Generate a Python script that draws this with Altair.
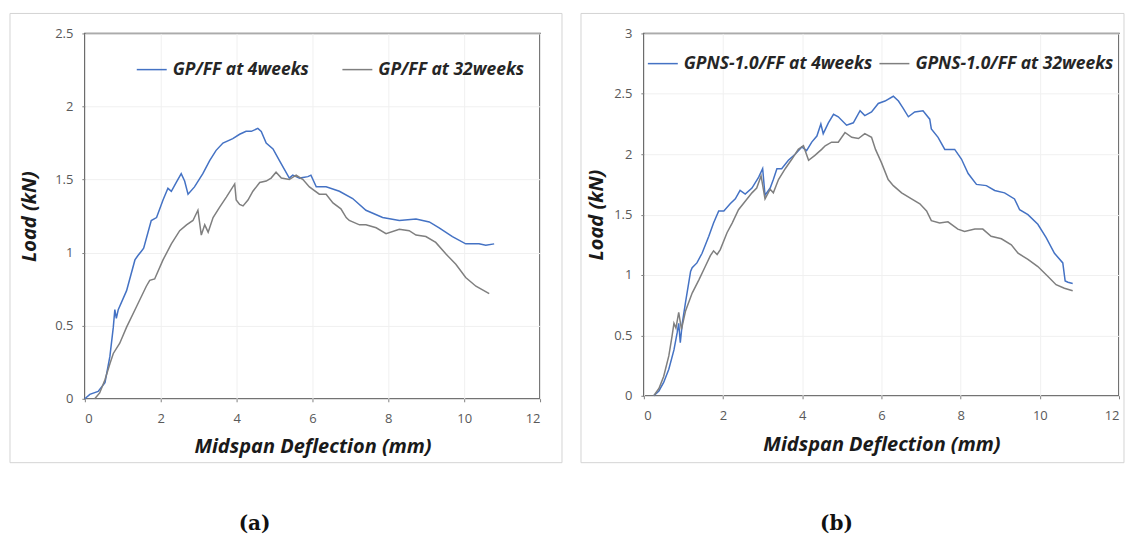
import altair as alt
import pandas as pd

# ---------------- data ----------------
x_ticks = [0, 2, 4, 6, 8, 10, 12]
y_ticks_a = [0, 0.5, 1, 1.5, 2, 2.5]
y_ticks_b = [0, 0.5, 1, 1.5, 2, 2.5, 3]

names_a = ["GP/FF at 4weeks", "GP/FF at 32weeks"]
names_b = ["GPNS-1.0/FF at 4weeks", "GPNS-1.0/FF at 32weeks"]
captions = ["(a)", "(b)"]

a4_x = [0, 0.13, 0.35, 0.53, 0.66, 0.75, 0.79, 0.83, 0.88, 1.10, 1.32, 1.40, 1.49, 1.55, 1.75, 1.89,
        2.06, 2.19, 2.28, 2.41, 2.54, 2.63, 2.72, 2.89, 3.11, 3.29, 3.46, 3.64, 3.90, 4.08, 4.25, 4.39,
        4.56, 4.65, 4.78, 4.96, 5.13, 5.26, 5.39, 5.48, 5.66, 5.88, 5.96, 6.10, 6.36, 6.71, 7.06, 7.41,
        7.85, 8.29, 8.73, 9.08, 9.34, 9.69, 10.04, 10.39, 10.57, 10.79]
a4_y = [0, 0.03, 0.05, 0.11, 0.29, 0.49, 0.61, 0.55, 0.61, 0.74, 0.95, 0.98, 1.01, 1.03, 1.22, 1.24,
        1.36, 1.44, 1.42, 1.48, 1.54, 1.49, 1.40, 1.45, 1.54, 1.63, 1.70, 1.75, 1.78, 1.81, 1.83, 1.83,
        1.85, 1.83, 1.75, 1.71, 1.63, 1.57, 1.51, 1.53, 1.51, 1.52, 1.53, 1.45, 1.45, 1.42, 1.37, 1.29,
        1.24, 1.22, 1.23, 1.21, 1.17, 1.11, 1.06, 1.06, 1.05, 1.06]

a32_x = [0.26, 0.39, 0.53, 0.66, 0.75, 0.92, 1.10, 1.36, 1.62, 1.71, 1.84, 2.06, 2.28, 2.50, 2.68, 2.85,
         2.98, 3.07, 3.16, 3.25, 3.38, 3.55, 3.73, 3.95, 3.99, 4.08, 4.17, 4.30, 4.43, 4.61, 4.78, 4.91,
         5.04, 5.18, 5.39, 5.57, 5.75, 5.92, 6.18, 6.36, 6.54, 6.75, 6.89, 6.97, 7.24, 7.41, 7.68, 7.94,
         8.29, 8.55, 8.73, 8.99, 9.25, 9.52, 9.78, 10.04, 10.31, 10.66]
a32_y = [0, 0.04, 0.13, 0.24, 0.31, 0.38, 0.49, 0.63, 0.77, 0.81, 0.82, 0.95, 1.06, 1.15, 1.19, 1.22,
         1.29, 1.12, 1.19, 1.14, 1.24, 1.31, 1.38, 1.47, 1.36, 1.33, 1.32, 1.36, 1.42, 1.48, 1.49, 1.51,
         1.55, 1.51, 1.50, 1.53, 1.50, 1.45, 1.40, 1.40, 1.34, 1.30, 1.24, 1.22, 1.19, 1.19, 1.17, 1.13,
         1.16, 1.15, 1.12, 1.11, 1.07, 0.99, 0.92, 0.83, 0.77, 0.72]

b4_x = [0.25, 0.38, 0.50, 0.63, 0.76, 0.84, 0.88, 0.92, 0.97, 1.05, 1.18, 1.22, 1.34, 1.47, 1.64, 1.76,
        1.89, 2.02, 2.18, 2.31, 2.43, 2.56, 2.73, 2.90, 3.00, 3.06, 3.19, 3.27, 3.36, 3.48, 3.65, 3.82,
        3.99, 4.11, 4.24, 4.37, 4.47, 4.53, 4.66, 4.79, 4.91, 5.12, 5.29, 5.46, 5.58, 5.75, 5.92, 6.09,
        6.30, 6.43, 6.55, 6.68, 6.84, 7.05, 7.22, 7.26, 7.43, 7.60, 7.85, 8.02, 8.19, 8.40, 8.65, 8.86,
        9.11, 9.36, 9.49, 9.70, 9.95, 10.16, 10.37, 10.58, 10.64, 10.71, 10.83]
b4_y = [0, 0.04, 0.11, 0.22, 0.38, 0.52, 0.60, 0.44, 0.60, 0.77, 1.03, 1.06, 1.10, 1.18, 1.32, 1.43,
        1.53, 1.53, 1.59, 1.63, 1.70, 1.67, 1.72, 1.81, 1.88, 1.66, 1.72, 1.79, 1.88, 1.88, 1.95, 2.00,
        2.06, 2.03, 2.10, 2.15, 2.25, 2.17, 2.26, 2.33, 2.31, 2.24, 2.26, 2.36, 2.32, 2.35, 2.42, 2.44,
        2.48, 2.44, 2.38, 2.31, 2.35, 2.36, 2.29, 2.21, 2.14, 2.04, 2.04, 1.96, 1.84, 1.75, 1.74, 1.70,
        1.68, 1.63, 1.54, 1.50, 1.42, 1.31, 1.18, 1.10, 0.95, 0.94, 0.93]

b32_x = [0.25, 0.38, 0.50, 0.63, 0.71, 0.76, 0.81, 0.88, 0.95, 1.05, 1.22, 1.39, 1.55, 1.68, 1.76, 1.85,
         1.93, 2.10, 2.23, 2.39, 2.56, 2.73, 2.85, 2.96, 3.06, 3.19, 3.27, 3.40, 3.57, 3.74, 3.90, 4.03,
         4.16, 4.32, 4.49, 4.58, 4.74, 4.91, 5.08, 5.25, 5.42, 5.58, 5.75, 5.85, 6.00, 6.17, 6.30, 6.51,
         6.76, 6.97, 7.14, 7.26, 7.47, 7.68, 7.93, 8.10, 8.36, 8.56, 8.77, 9.03, 9.28, 9.45, 9.70, 9.95,
         10.20, 10.41, 10.62, 10.83]
b32_y = [0, 0.06, 0.16, 0.33, 0.49, 0.60, 0.56, 0.69, 0.55, 0.70, 0.85, 0.96, 1.07, 1.16, 1.20, 1.17,
         1.21, 1.35, 1.43, 1.54, 1.61, 1.68, 1.72, 1.82, 1.63, 1.71, 1.68, 1.79, 1.88, 1.96, 2.04, 2.07,
         1.95, 1.99, 2.04, 2.07, 2.10, 2.10, 2.18, 2.14, 2.13, 2.17, 2.14, 2.04, 1.93, 1.79, 1.74, 1.68,
         1.63, 1.59, 1.53, 1.45, 1.43, 1.44, 1.38, 1.36, 1.38, 1.38, 1.32, 1.30, 1.25, 1.18, 1.13, 1.07,
         0.99, 0.92, 0.89, 0.87]

COLORS = ["#4472C4", "#7F7F7F"]
FONT = "Open Sans"


def make_df(names, series):
    rows = []
    for name, (xs, ys) in zip(names, series):
        for i, (xv, yv) in enumerate(zip(xs, ys)):
            rows.append({"series": name, "x": xv, "y": yv, "i": i})
    return pd.DataFrame(rows)


def panel(df, names, y_ticks, w, h, caption, cap_x, rect, leg_x, leg_y, col_pad, title_x, title_y):
    border = alt.Chart(pd.DataFrame({"k": [0]})).mark_rect(
        fillOpacity=0, stroke="#d4d4d4", strokeWidth=1
    ).encode(
        x=alt.value(rect[0]), x2=alt.value(rect[1]),
        y=alt.value(rect[2]), y2=alt.value(rect[3]),
    )
    lines = alt.Chart(df).mark_line(strokeWidth=1.5).encode(
        x=alt.X("x:Q", scale=alt.Scale(domain=[0, 12], nice=False),
                axis=alt.Axis(values=x_ticks, title="Midspan Deflection (mm)",
                              titleY=title_y, titleBaseline="middle")),
        y=alt.Y("y:Q", scale=alt.Scale(domain=[0, y_ticks[-1]], nice=False),
                axis=alt.Axis(values=y_ticks, format="~g", title="Load (kN)",
                              titleX=title_x, titleY=h / 2, titleAngle=270,
                              titleBaseline="middle", labelPadding=9)),
        color=alt.Color("series:N",
                        scale=alt.Scale(domain=names, range=COLORS),
                        legend=alt.Legend(title=None, orient="none", legendX=leg_x, legendY=leg_y,
                                          direction="horizontal", symbolType="stroke",
                                          symbolSize=900, symbolStrokeWidth=1.5,
                                          labelFont=FONT, labelFontSize=17.5,
                                          labelFontStyle="italic", labelFontWeight="bold",
                                          labelColor="#262626", columnPadding=col_pad,
                                          labelLimit=0, padding=0, labelOffset=5)),
        order="i:Q",
    )
    cap = alt.Chart(pd.DataFrame({"t": [caption]})).mark_text(
        font="DejaVu Serif", fontSize=20, fontWeight="bold", color="#111",
        align="center", baseline="middle"
    ).encode(x=alt.value(cap_x), y=alt.value(491), text="t:N")
    return alt.layer(border, lines, cap).properties(width=w, height=h)


df_a = make_df(names_a, [(a4_x, a4_y), (a32_x, a32_y)])
df_b = make_df(names_b, [(b4_x, b4_y), (b32_x, b32_y)])

left = panel(df_a, names_a, y_ticks_a, 456, 366, captions[0], 170,
             (-75, 478, -20, 430), 51, 20, 30, -55, 48)
right = panel(df_b, names_b, y_ticks_b, 476, 363, captions[1], 193,
              (-63, 481, -20, 430), 3, 14, 4, -47, 49)

chart = alt.hconcat(left, right, spacing=15).resolve_scale(
    color="independent", x="independent", y="independent"
).properties(
    padding={"left": 0, "top": 3, "right": 0, "bottom": 0}
).configure(
    background="white"
).configure_view(
    stroke="#4d4d4d", strokeWidth=1.6
).configure_axis(
    domain=False, grid=True, gridColor="#f0f0f0", gridWidth=1,
    tickSize=3, tickColor="#7f7f7f",
    labelFont=FONT, labelFontSize=13, labelColor="#595959",
    titleFont=FONT, titleFontSize=20, titleFontStyle="italic", titleFontWeight="bold",
    titleColor="#1a1a1a"
).configure_axisX(
    labelPadding=11
)

chart.save("out.html", embed_options={"renderer": "svg", "actions": False})
